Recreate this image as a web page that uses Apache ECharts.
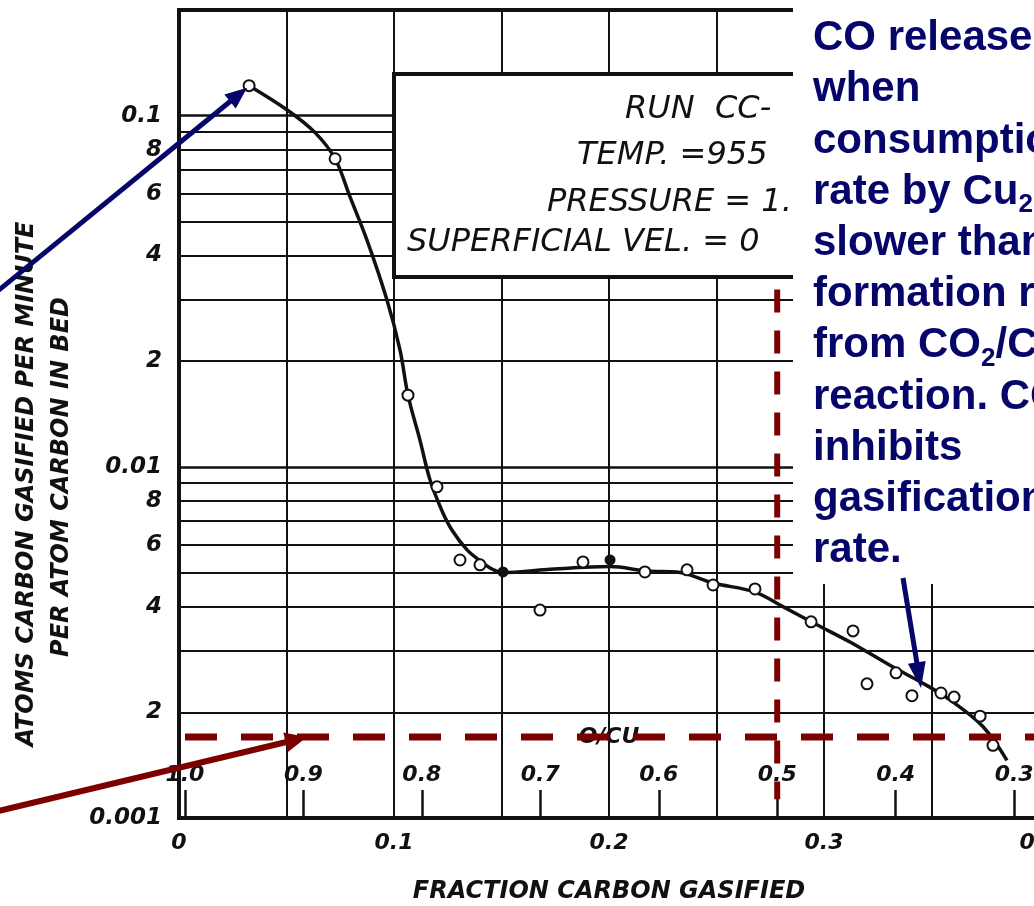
<!DOCTYPE html>
<html>
<head>
<meta charset="utf-8">
<script src="https://cdn.jsdelivr.net/npm/echarts@6/dist/echarts.min.js"></script>
<style>
html, body { margin: 0; padding: 0; background: #ffffff; }
#chart { width: 1034px; height: 906px; }
</style>
</head>
<body>
<div id="chart"></div>
<script>
// Gasification rate vs. fraction of carbon gasified (run CC), log rate axis.

// Smoothed rate curve drawn through the measurements
const curveX = [0.0326, 0.0502, 0.0633, 0.0726, 0.0795, 0.0874, 0.0967, 0.1028, 0.1065, 0.1121, 0.1167,
  0.1223, 0.127, 0.134, 0.14, 0.146, 0.1507, 0.1712, 0.2005, 0.2177, 0.233, 0.2484, 0.2679, 0.2809,
  0.2967, 0.3121, 0.3321, 0.346, 0.3586, 0.374, 0.3851];
const curveY = [0.1218, 0.104, 0.0895, 0.0754, 0.0588, 0.0443, 0.0299, 0.0215, 0.016, 0.0119, 0.0092,
  0.0075, 0.0066, 0.0058, 0.0054, 0.0051, 0.0050, 0.0051, 0.0052, 0.00505, 0.0050, 0.00467, 0.0044, 0.0040,
  0.00355, 0.00317, 0.00269, 0.00242, 0.00217, 0.00182, 0.00146];

// Measured points (open circles)
const openX = [0.0326, 0.0726, 0.1065, 0.12, 0.1307, 0.14, 0.1679, 0.1879, 0.2167, 0.2363, 0.2484, 0.2679,
  0.294, 0.3135, 0.32, 0.3335, 0.3409, 0.3544, 0.3605, 0.3726, 0.3786];
const openY = [0.1218, 0.0754, 0.016, 0.00877, 0.00543, 0.00526, 0.00391, 0.00536, 0.00502, 0.00509, 0.00461,
  0.00449, 0.00362, 0.00341, 0.00241, 0.00259, 0.00223, 0.00227, 0.00221, 0.00195, 0.00161];

// Measured points (solid dots)
const solidX = [0.1507, 0.2005];
const solidY = [0.00502, 0.00543];

// Log-paper rulings and their labels
const yGridValues = [0.002, 0.003, 0.004, 0.005, 0.006, 0.007, 0.008, 0.009, 0.01,
  0.02, 0.03, 0.04, 0.05, 0.06, 0.07, 0.08, 0.09, 0.1];
const yLabelValues = [0.001, 0.002, 0.004, 0.006, 0.008, 0.01, 0.02, 0.04, 0.06, 0.08, 0.1];
const yLabelTexts = ['0.001', '2', '4', '6', '8', '0.01', '2', '4', '6', '8', '0.1'];

// Fraction carbon gasified tick labels
const xLabelValues = [0, 0.1, 0.2, 0.3, 0.4];
const xLabelTexts = ['0', '0.1', '0.2', '0.3', '0.4'];

// O/Cu secondary scale
const oCuTicks = [1.0, 0.9, 0.8, 0.7, 0.6, 0.5, 0.4, 0.3];
const oCuLabels = ['1.0', '0.9', '0.8', '0.7', '0.6', '0.5', '0.4', '0.3'];
const oCuName = 'O/CU';

// Reference lines
const refRate = 0.0017;          // horizontal dashed level
const refRateFromX = 0.0028;
const refOCu = 0.5;              // vertical dashed at O/Cu = 0.5
const refOCuTop = 0.032;
const refOCuBottom = 0.00113;

// Text
const infoLines = ['RUN  CC-', 'TEMP. =955', 'PRESSURE = 1.0', 'SUPERFICIAL VEL. = 0'];
const noteLines = ['CO released', 'when', 'consumption', 'rate by Cu{sub|2}O is', 'slower than',
  'formation rate', 'from CO{sub|2}/C', 'reaction. CO', 'inhibits', 'gasification', 'rate.'];
const yTitle1 = 'ATOMS CARBON GASIFIED PER MINUTE';
const yTitle2 = 'PER ATOM CARBON IN BED';
const xTitle = 'FRACTION CARBON GASIFIED';

const INK = '#111111';
const NAVY = '#05056a';
const DARKRED = '#7d0000';
const LETTER = { fontFamily: 'DejaVu Sans', fontStyle: 'italic', fontWeight: 'bold', color: INK };

const zip = (xs, ys) => xs.map((x, i) => [x, ys[i]]);

const gridLines = yLabelValues.concat(yGridValues.filter(v => yLabelValues.indexOf(v) < 0))
  .map(v => {
    const li = yLabelValues.indexOf(v);
    const major = (v === 0.01 || v === 0.1);
    return {
      yAxis: v,
      lineStyle: { color: INK, width: major ? 2.6 : 2, type: 'solid', opacity: 1 },
      label: li >= 0 ? { show: true, formatter: yLabelTexts[li] } : { show: false }
    };
  });

const chart = echarts.init(document.getElementById('chart'), null, { renderer: 'canvas' });

chart.setOption({
  animation: false,
  backgroundColor: '#ffffff',
  grid: { left: 179, right: -5, top: 10, bottom: 88, containLabel: false, outerBoundsMode: 'none',
    show: true, borderColor: INK, borderWidth: 4, backgroundColor: 'transparent' },
  xAxis: [
    {
      type: 'value', min: 0, max: 0.4, interval: 0.05, position: 'bottom',
      axisLine: { show: true, lineStyle: { color: INK, width: 3 } },
      axisTick: { show: false },
      splitLine: { show: true, lineStyle: { color: INK, width: 2 } },
      axisLabel: Object.assign({
        fontSize: 22, margin: 14,
        formatter: v => {
          const i = xLabelValues.findIndex(t => Math.abs(t - v) < 1e-9);
          return i >= 0 ? xLabelTexts[i] : '';
        }
      }, LETTER),
      name: xTitle, nameLocation: 'middle', nameGap: 62,
      nameTextStyle: Object.assign({ fontSize: 24 }, LETTER)
    },
    {
      type: 'value', min: 0.279, max: 1.005, inverse: true, position: 'bottom',
      axisLine: { show: false },
      splitLine: { show: false },
      axisTick: { show: true, inside: true, length: 28, customValues: oCuTicks, lineStyle: { color: INK, width: 2.5 } },
      axisLabel: Object.assign({
        show: true, inside: true, margin: 32, fontSize: 22, customValues: oCuTicks,
        formatter: v => {
          const i = oCuTicks.findIndex(t => Math.abs(t - v) < 1e-9);
          return i >= 0 ? oCuLabels[i] : '';
        }
      }, LETTER)
    }
  ],
  yAxis: {
    type: 'log', logBase: 10, min: 0.001, max: 0.2,
    axisLine: { show: false }, axisTick: { show: false },
    axisLabel: { show: false }, splitLine: { show: false }
  },
  series: [
    {
      name: 'rulings', type: 'scatter', data: [], silent: true,
      markLine: {
        silent: true, symbol: 'none', z: 1, animation: false, precision: 6,
        label: Object.assign({ position: 'start', distance: 17, fontSize: 23 }, LETTER),
        data: gridLines
      }
    },
    {
      name: 'rate curve', type: 'line', data: zip(curveX, curveY), smooth: 0.35,
      symbol: 'none', z: 3, lineStyle: { color: INK, width: 3.5 }
    },
    {
      name: 'measured', type: 'scatter', data: zip(openX, openY), z: 4,
      symbol: 'circle', symbolSize: 11,
      itemStyle: { color: '#ffffff', borderColor: INK, borderWidth: 2, opacity: 1 }
    },
    {
      name: 'measured solid', type: 'scatter', data: zip(solidX, solidY), z: 4,
      symbol: 'circle', symbolSize: 11, itemStyle: { color: INK, opacity: 1 }
    },
    {
      name: 'rate level', type: 'line', symbol: 'none', z: 6, silent: true,
      data: [[refRateFromX, refRate], [0.4, refRate]],
      lineStyle: { color: DARKRED, width: 7, type: [32, 24] }
    },
    {
      name: 'O/Cu level', type: 'line', symbol: 'none', z: 6, silent: true,
      xAxisIndex: 1,
      data: [[refOCu, refOCuTop], [refOCu, refOCuBottom]],
      lineStyle: { color: DARKRED, width: 6, type: [23, 18] }
    }
  ]
});

// Arrow annotation: shaft plus triangular head
function arrow(x1, y1, x2, y2, color, width, headLen, headHalf) {
  const dx = x2 - x1, dy = y2 - y1;
  const len = Math.sqrt(dx * dx + dy * dy);
  const ux = dx / len, uy = dy / len;
  const bx = x2 - ux * headLen, by = y2 - uy * headLen;
  return [
    { type: 'line', z: 120, shape: { x1: x1, y1: y1, x2: bx + ux * 2, y2: by + uy * 2 },
      style: { stroke: color, lineWidth: width, lineCap: 'butt' } },
    { type: 'polygon', z: 120,
      shape: { points: [[x2, y2], [bx - uy * headHalf, by + ux * headHalf], [bx + uy * headHalf, by - ux * headHalf]] },
      style: { fill: color } }
  ];
}

const toPx = p => chart.convertToPixel({ xAxisIndex: 0, yAxisIndex: 0 }, p);
const peak = toPx([openX[0], openY[0]]);
const levelY = toPx([0.05, refRate])[1];
const axisBottom = toPx([0, 0.001])[1];
const oCuMidX = chart.convertToPixel({ xAxisIndex: 1 }, (0.279 + 1.005) / 2);

const infoText = infoLines.map((t, i) => ({
  type: 'text', z: 95,
  x: [625, 577, 547, 407][i], y: [110, 156, 203, 243][i],
  style: { text: t, fill: INK, fontFamily: 'DejaVu Sans', fontStyle: 'italic', fontSize: 32,
    align: 'left', textAlign: 'left', verticalAlign: 'middle', textVerticalAlign: 'middle' }
}));

const elements = [
  // parameter box
  { type: 'rect', z: 90, shape: { x: 394, y: 74, width: 520, height: 203 },
    style: { fill: '#ffffff', stroke: INK, lineWidth: 4 } },
  ...infoText,
  // O/Cu scale name
  { type: 'text', z: 5, x: oCuMidX, y: axisBottom - 81,
    style: { text: oCuName, fill: INK, fontFamily: 'DejaVu Sans', fontStyle: 'italic', fontWeight: 'bold', fontSize: 22,
      align: 'center', textAlign: 'center', verticalAlign: 'middle', textVerticalAlign: 'middle' } },
  // note panel
  { type: 'rect', z: 100, shape: { x: 793, y: 0, width: 260, height: 584 }, style: { fill: '#ffffff' } },
  { type: 'text', z: 101, x: 813, y: 13,
    style: {
      text: noteLines.join('\n'), fill: NAVY,
      fontFamily: 'Liberation Sans', fontWeight: 'bold', fontSize: 42, lineHeight: 51.2,
      align: 'left', textAlign: 'left', verticalAlign: 'top', textVerticalAlign: 'top',
      rich: { sub: { fontFamily: 'Liberation Sans', fontWeight: 'bold', fontSize: 26, lineHeight: 26,
        verticalAlign: 'bottom', fill: NAVY } }
    } },
  // rotated y titles
  { type: 'text', z: 95, x: 27, y: 484, rotation: Math.PI / 2,
    style: { text: yTitle1, fill: INK, fontFamily: 'DejaVu Sans', fontStyle: 'italic', fontWeight: 'bold', fontSize: 24,
      align: 'center', textAlign: 'center', verticalAlign: 'middle', textVerticalAlign: 'middle' } },
  { type: 'text', z: 95, x: 62, y: 477, rotation: Math.PI / 2,
    style: { text: yTitle2, fill: INK, fontFamily: 'DejaVu Sans', fontStyle: 'italic', fontWeight: 'bold', fontSize: 24,
      align: 'center', textAlign: 'center', verticalAlign: 'middle', textVerticalAlign: 'middle' } },
  ...arrow(-6, 294, peak[0] - 2, peak[1] + 2, NAVY, 5, 22, 9),
  ...arrow(-6, 812, 307, levelY, DARKRED, 6, 22, 10),
  ...arrow(903, 578, 921, 688, NAVY, 5, 26, 9)
];

chart.setOption({ graphic: { elements: elements } });
</script>
</body>
</html>
